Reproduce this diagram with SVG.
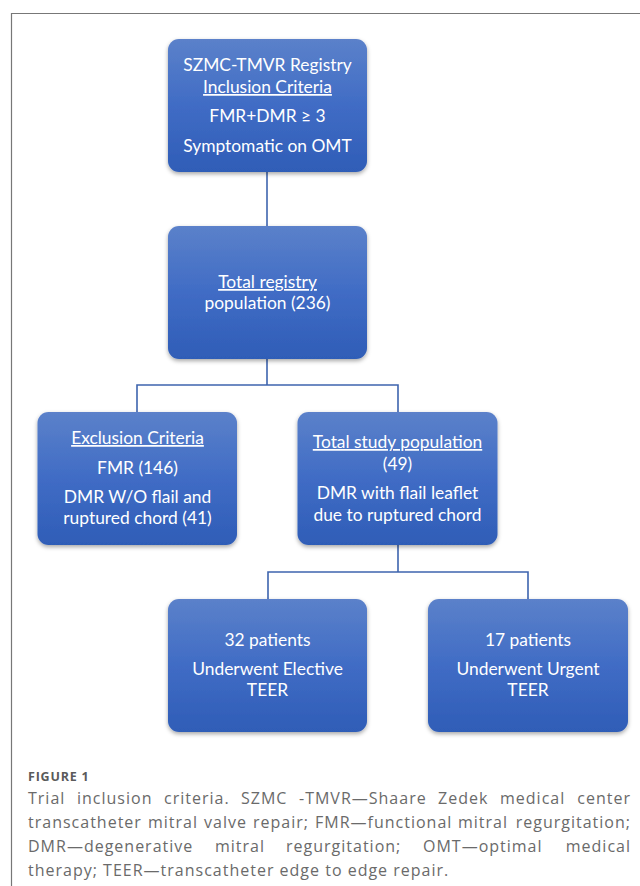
<svg xmlns="http://www.w3.org/2000/svg" width="640" height="886" viewBox="0 0 640 886">
<style>
.box{fill:url(#g);filter:url(#sh)}
.t{font-family:Lato,"Open Sans",sans-serif;font-size:17.4px;fill:#fff;text-anchor:middle}
.u{text-decoration:underline}
.c{fill:none;stroke:#3e64ae;stroke-width:1.6}
.cap{font-family:"Open Sans","Noto Sans",sans-serif;font-size:16px;letter-spacing:1px;fill:#6a6a6a}
.e{text-anchor:end}
.fig{font-family:"Open Sans","Noto Sans",sans-serif;font-size:12.5px;letter-spacing:0.8px;font-weight:bold;fill:#5a5a5a}
</style>
<defs>
<linearGradient id="g" x1="0" y1="0" x2="0" y2="1">
<stop offset="0" stop-color="#5b81ca"/>
<stop offset="0.5" stop-color="#406cc5"/>
<stop offset="1" stop-color="#2f5db7"/>
</linearGradient>
<filter id="sh" x="-10%" y="-10%" width="120%" height="125%">
<feDropShadow dx="0" dy="2" stdDeviation="2" flood-color="#000" flood-opacity="0.35"/>
</filter>
</defs>
<rect width="640" height="886" fill="#fff"/>
<path d="M11.5 886V13.5H640" fill="none" stroke="#777" stroke-width="1.2"/>
<g id="connectors">
<path class="c" d="M267 172V226"/>
<path class="c" d="M267 359V385M137 412V385H398V412"/>
<path class="c" d="M398 545V572M268 599V572H528V599"/>
</g>
<g id="n1">
<rect class="box" x="168" y="39" width="199" height="133" rx="11"/>
<text class="t" x="267.5" y="71">SZMC-TMVR Registry</text>
<text class="t u" x="267.5" y="93">Inclusion Criteria</text>
<text class="t" x="267.5" y="122">FMR+DMR ≥ 3</text>
<text class="t" x="267.5" y="152">Symptomatic on OMT</text>
</g>
<g id="n2">
<rect class="box" x="168" y="226" width="199" height="133" rx="11"/>
<text class="t u" x="267.5" y="288">Total registry</text>
<text class="t" x="267.5" y="309">population (236)</text>
</g>
<g id="n3">
<rect class="box" x="37.5" y="412" width="199.5" height="133" rx="11"/>
<text class="t u" x="137.5" y="444">Exclusion Criteria</text>
<text class="t" x="137.5" y="474">FMR (146)</text>
<text class="t" x="137.5" y="503">DMR W/O flail and</text>
<text class="t" x="137.5" y="524">ruptured chord (41)</text>
</g>
<g id="n4">
<rect class="box" x="297.5" y="412" width="200" height="133" rx="11"/>
<text class="t u" x="397.5" y="448">Total study population</text>
<text class="t" x="397.5" y="470">(49)</text>
<text class="t" x="397.5" y="499">DMR with flail leaflet</text>
<text class="t" x="397.5" y="521">due to ruptured chord</text>
</g>
<g id="n5">
<rect class="box" x="168" y="599" width="199" height="133" rx="11"/>
<text class="t" x="267.5" y="646">32 patients</text>
<text class="t" x="267.5" y="675">Underwent Elective</text>
<text class="t" x="267.5" y="696">TEER</text>
</g>
<g id="n6">
<rect class="box" x="428" y="599" width="200" height="133" rx="11"/>
<text class="t" x="528" y="646">17 patients</text>
<text class="t" x="528" y="675">Underwent Urgent</text>
<text class="t" x="528" y="696">TEER</text>
</g>
<g id="caption">
<text class="fig" x="28" y="781">FIGURE 1</text>
<text class="cap" y="804"><tspan x="28">Trial</tspan><tspan x="77">inclusion</tspan><tspan x="164">criteria.</tspan><tspan x="241">SZMC</tspan><tspan x="299">-TMVR—Shaare</tspan><tspan x="438">Zedek</tspan><tspan x="500">medical</tspan></text>
<text class="cap e" x="631" y="804">center</text>
<text class="cap" y="828"><tspan x="28">transcatheter</tspan><tspan x="148">mitral</tspan><tspan x="204">valve</tspan><tspan x="253">repair;</tspan><tspan x="315">FMR—functional</tspan><tspan x="458">mitral</tspan></text>
<text class="cap e" x="631" y="828">regurgitation;</text>
<text class="cap" y="852"><tspan x="28">DMR—degenerative</tspan><tspan x="215">mitral</tspan><tspan x="286">regurgitation;</tspan><tspan x="423">OMT—optimal</tspan></text>
<text class="cap e" x="631" y="852">medical</text>
<text class="cap" x="28" y="876">therapy; TEER—transcatheter edge to edge repair.</text>
</g>
</svg>
